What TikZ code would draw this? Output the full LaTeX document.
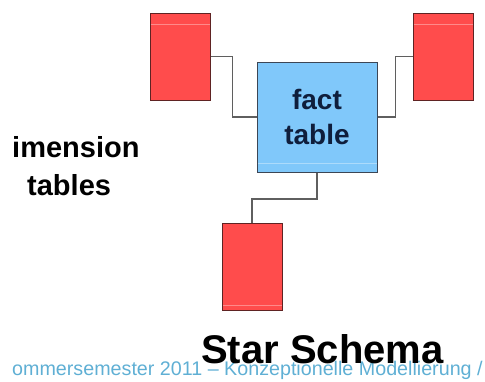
\documentclass[tikz,border=0pt]{standalone}
\usepackage{fontspec}
\setmainfont{Liberation Sans}
\usetikzlibrary{calc}
\definecolor{dimred}{RGB}{255,76,76}
\definecolor{dimedge}{RGB}{95,35,35}
\definecolor{factblue}{RGB}{128,200,250}
\definecolor{factedge}{RGB}{60,70,85}
\definecolor{factink}{RGB}{15,30,60}
\definecolor{linkgray}{RGB}{95,95,95}
\definecolor{footblue}{RGB}{95,175,212}
\tikzset{
  dimbox/.style={draw=dimedge, line width=1pt, fill=dimred,
    minimum width=60pt, minimum height=87pt, inner sep=0pt},
  factbox/.style={draw=factedge, line width=1pt, fill=factblue,
    minimum width=120pt, minimum height=110pt, inner sep=0pt,
    align=center, text=factink,
    font=\bfseries\fontsize{28}{35}\selectfont},
  link/.style={draw=linkgray, line width=1.5pt},
  shine/.style={draw=white, opacity=0.35, line width=1pt},
  label/.style={inner sep=0pt, font=\bfseries\fontsize{29}{29}\selectfont},
}
\begin{document}
\begin{tikzpicture}[x=1pt, y=-1pt]
  \useasboundingbox (0,0) rectangle (485,381);

  % dimension tables and the fact table
  \node[dimbox] (d1) at (180,56.5) {};
  \node[dimbox] (d2) at (443,56.5) {};
  \node[dimbox] (d3) at (252,267) {};
  \node[factbox] (fact) at (317,117) {fact\\table};

  % faint highlight lines inside the boxes
  \draw[shine] ($(d1.north west)+(1,12)$) -- ($(d1.north east)+(-1,12)$);
  \draw[shine] ($(d2.north west)+(1,12)$) -- ($(d2.north east)+(-1,12)$);
  \draw[shine] ($(d3.south west)+(1,-6)$) -- ($(d3.south east)+(-1,-6)$);
  \draw[shine] ($(fact.south west)+(1,-9)$) -- ($(fact.south east)+(-1,-9)$);

  % connectors
  \draw[link] (d1.east) -- ++(22,0) |- (fact.west);
  \draw[link] (fact.east) -- ++(18,0) |- (d2.west);
  \draw[link] (d3.north) -- ++(0,-24) -| (fact.south);

  % side caption
  \node[label, anchor=base west] (cap1) at (12,157) {imension};
  \node[label, anchor=base west] (cap2) at (27,195) {tables};

  % footer line and title
  \node[inner sep=0pt, anchor=base west, text=footblue,
        font=\fontsize{19.7}{19.7}\selectfont] (foot) at (12,375)
        {ommersemester 2011 – Konzeptionelle Modellierung /};
  \node[inner sep=0pt, anchor=base west,
        font=\bfseries\fontsize{40}{40}\selectfont] (title) at (201,363)
        {Star Schema};
\end{tikzpicture}
\end{document}
